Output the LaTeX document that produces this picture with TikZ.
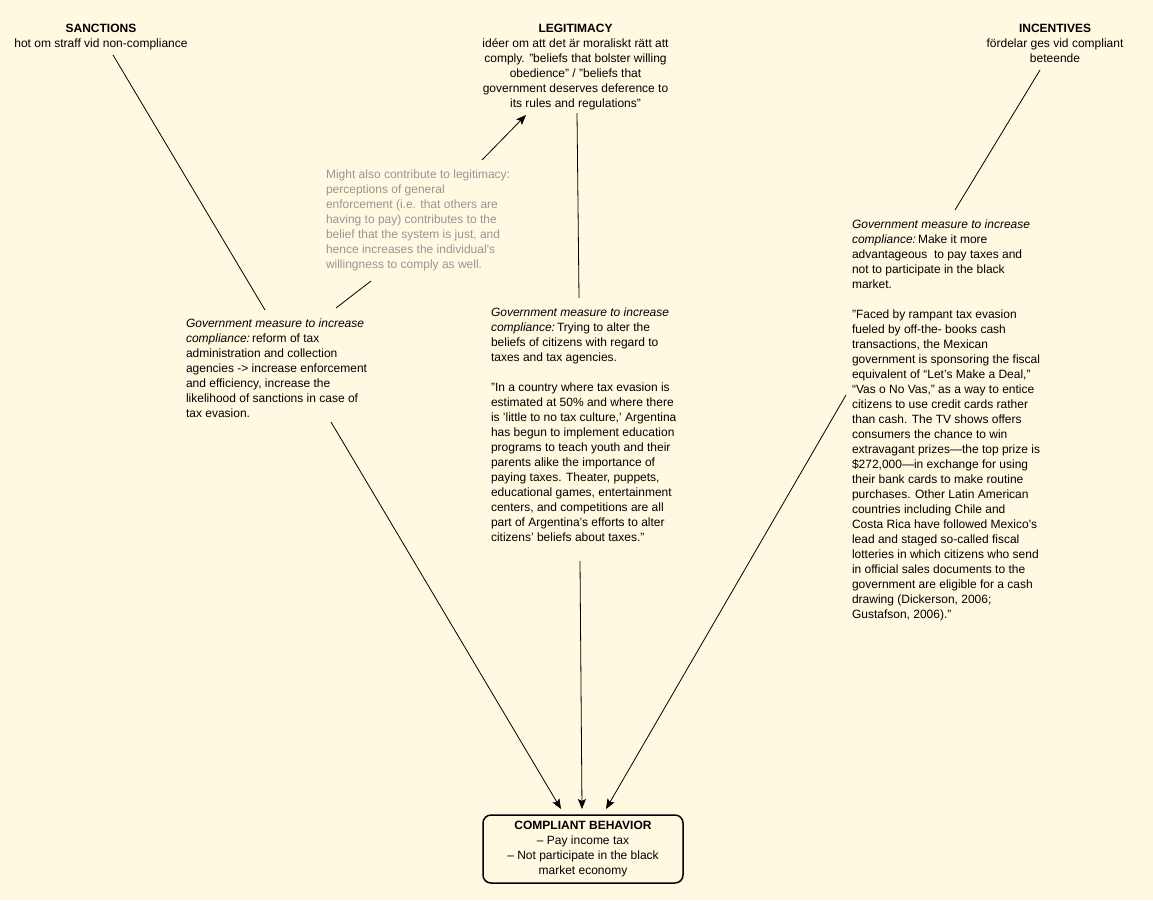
\documentclass[tikz,border=0pt]{standalone}
\usepackage{fontspec}
\setmainfont{Liberation Sans}
\usetikzlibrary{arrows.meta}
\definecolor{bgcream}{RGB}{255,249,226}
\definecolor{notegray}{RGB}{150,150,150}
\begin{document}
\begin{tikzpicture}[x=1pt,y=-1pt,
  txt/.style={inner sep=0pt,outer sep=0pt,font=\fontsize{12}{15}\selectfont},
  lefttxt/.style={txt,align=left,anchor=north west},
  ctrtxt/.style={txt,align=center,anchor=north},
  link/.style={draw=black,line width=0.8pt},
  arr/.style={link,-{Stealth[length=10pt,width=8pt,inset=2pt]}},
  boxstyle/.style={draw=black,line width=1.5pt,rounded corners=8pt,minimum width=200pt,minimum height=68pt,inner sep=0pt,align=center,font=\fontsize{12}{15}\selectfont}
]
\useasboundingbox (0,0) rectangle (1153,900);
\fill[bgcream] (0,0) rectangle (1153,900);

% headings
\node[ctrtxt] (sanc) at (101,23.9) {\textbf{SANCTIONS}\\hot om straff vid non-compliance};
\node[ctrtxt] (legit) at (575.5,23.9) {\textbf{LEGITIMACY}\\
idéer om att det är moraliskt rätt att\\
comply. ”beliefs that bolster willing\\
obedience” / ”beliefs that\\
government deserves deference to\\
its rules and regulations”};
\node[ctrtxt] (incent) at (1055,23.9) {\textbf{INCENTIVES}\\fördelar ges vid compliant\\beteende};

% gray note
\node[lefttxt,text=notegray] (note) at (326,169.4) {Might also contribute to legitimacy:\\
perceptions of general\\
enforcement (i.e. that others are\\
having to pay) contributes to the\\
belief that the system is just, and\\
hence increases the individual’s\\
willingness to comply as well.};

% left measure
\node[lefttxt] (leftm) at (186,318.4) {\textit{Government measure to increase}\\
\textit{compliance:}\,reform of tax\\
administration and collection\\
agencies -> increase enforcement\\
and efficiency, increase the\\
likelihood of sanctions in case of\\
tax evasion.};

% middle measure
\node[lefttxt] (midm) at (491,307.4) {\textit{Government measure to increase}\\
\textit{compliance:}\,Trying to alter the\\
beliefs of citizens with regard to\\
taxes and tax agencies.\\[15pt]
”In a country where tax evasion is\\
estimated at 50\% and where there\\
is ’little to no tax culture,’ Argentina\\
has begun to implement education\\
programs to teach youth and their\\
parents alike the importance of\\
paying taxes. Theater, puppets,\\
educational games, entertainment\\
centers, and competitions are all\\
part of Argentina’s efforts to alter\\
citizens’ beliefs about taxes.”};

% right measure
\node[lefttxt] (rightm) at (852,219.4) {\textit{Government measure to increase}\\
\textit{compliance:}\,Make it more\\
advantageous\ \ to pay taxes and\\
not to participate in the black\\
market.\\[15pt]
”Faced by rampant tax evasion\\
fueled by off-the- books cash\\
transactions, the Mexican\\
government is sponsoring the fiscal\\
equivalent of “Let’s Make a Deal,”\\
“Vas o No Vas,” as a way to entice\\
citizens to use credit cards rather\\
than cash. The TV shows offers\\
consumers the chance to win\\
extravagant prizes—the top prize is\\
\$272,000—in exchange for using\\
their bank cards to make routine\\
purchases. Other Latin American\\
countries including Chile and\\
Costa Rica have followed Mexico’s\\
lead and staged so-called fiscal\\
lotteries in which citizens who send\\
in official sales documents to the\\
government are eligible for a cash\\
drawing (Dickerson, 2006;\\
Gustafson, 2006).”};

% result box
\node[boxstyle] (box) at (583,849) {\textbf{COMPLIANT BEHAVIOR}\\– Pay income tax\\– Not participate in the black\\market economy};

% connector end points
\coordinate (sancS) at (113,55);
\coordinate (leftmN) at (265,310);
\coordinate (leftmNE) at (336,308);
\coordinate (noteS) at (371,281);
\coordinate (noteN) at (482,160);
\coordinate (legitSW) at (526,115);
\coordinate (legitS) at (577,113);
\coordinate (midmN) at (579,298);
\coordinate (incentS) at (1040,70);
\coordinate (rightmN) at (955,210);
\coordinate (leftmS) at (331,422);
\coordinate (midmS) at (580,561);
\coordinate (rightmW) at (846,395);
\coordinate (boxL) at (561,809);
\coordinate (boxM) at (582,809);
\coordinate (boxR) at (606,809);

\draw[link] (sancS) -- (leftmN);
\draw[link] (leftmNE) -- (noteS);
\draw[arr] (noteN) -- (legitSW);
\draw[link] (legitS) -- (midmN);
\draw[link] (incentS) -- (rightmN);
\draw[arr] (leftmS) -- (boxL);
\draw[arr] (midmS) -- (boxM);
\draw[arr] (rightmW) -- (boxR);
\end{tikzpicture}
\end{document}
